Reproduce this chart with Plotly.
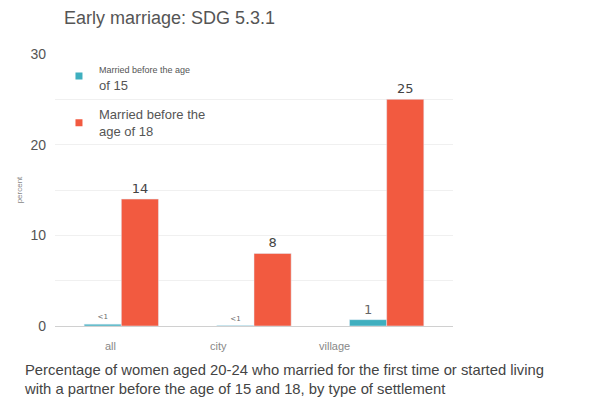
import plotly.graph_objects as go

categories = ["all", "city", "village"]
before15 = [0.2, 0.05, 0.7]
before18 = [14, 8, 25]
labels15 = ["<1", "<1", "1"]
labels18 = ["14", "8", "25"]
series_names = [
    "<span style='font-size:9px'>Married before the age</span><br>of 15",
    "Married before the<br>age of 18",
]

teal = "#3FAFBF"
red = "#F25A40"
font = "Liberation Sans, Arial, sans-serif"

fig = go.Figure()
fig.add_trace(go.Bar(
    x=categories, y=before15, marker_color=teal, showlegend=False,
    text=labels15, textposition="outside", cliponaxis=False,
    textfont=dict(size=[7, 7, 13], color="#666", family="DejaVu Sans, sans-serif"),
))
fig.add_trace(go.Bar(
    x=categories, y=before18, marker_color=red, showlegend=False,
    text=labels18, textposition="outside", cliponaxis=False,
    textfont=dict(size=13, color="#444", family="DejaVu Sans, sans-serif"),
))
# legend entries with small square swatches
for i, (name, col) in enumerate(zip(series_names, [teal, red])):
    fig.add_trace(go.Scatter(x=[None], y=[None], mode="markers", name=name,
                             legendgroup=f"g{i}",
                             marker=dict(symbol="square", size=7, color=col)))

# shifted category labels (as in reference)
label_shifts = [-11, -36, -52]
for c, s in zip(categories, label_shifts):
    fig.add_annotation(x=c, y=0, xref="x", yref="y", text=c, showarrow=False,
                       yanchor="top", yshift=-12, xshift=s,
                       font=dict(size=11, color="#888", family=font))

fig.add_annotation(text="Early marriage: SDG 5.3.1", xref="paper", yref="paper",
                   x=(62 - 55) / 398, y=1.0, yshift=36, xanchor="left", yanchor="middle",
                   showarrow=False, font=dict(size=18, color="#555", family=font))
fig.add_annotation(
    text="Percentage of women aged 20-24 who married for the first time or started living<br>"
         "with a partner before the age of 15 and 18, by type of settlement",
    xref="paper", yref="paper", x=(22 - 55) / 398, y=0, yshift=-34,
    xanchor="left", yanchor="top", align="left", showarrow=False,
    font=dict(size=14.8, color="#444", family=font))

fig.update_layout(
    width=597, height=398,
    margin=dict(l=55, r=144, t=54, b=72),
    paper_bgcolor="white", plot_bgcolor="white",
    barmode="group", bargap=0.44, bargroupgap=0,
    showlegend=True,
    legend=dict(x=0.01, y=1.005, xanchor="left", yanchor="top",
                bgcolor="rgba(255,255,255,0)",
                font=dict(size=13, color="#555", family=font),
                itemwidth=30, tracegroupgap=10, traceorder="grouped"),
    font=dict(family=font),
)
fig.update_xaxes(showticklabels=False, showgrid=False, showline=False, zeroline=False)
fig.update_yaxes(range=[0, 30], tickvals=[0, 10, 20, 30], showgrid=True,
                 gridcolor="#F0F0F0", zeroline=True, zerolinecolor="#D0D0D0",
                 zerolinewidth=1, ticks="", tickfont=dict(size=14, color="#555"),
                 ticklabelstandoff=8,
                 minor=dict(dtick=5, showgrid=True, gridcolor="#F0F0F0"),
                 title=dict(text="percent", font=dict(size=8, color="#888"), standoff=6))

fig.write_html("out.html")
